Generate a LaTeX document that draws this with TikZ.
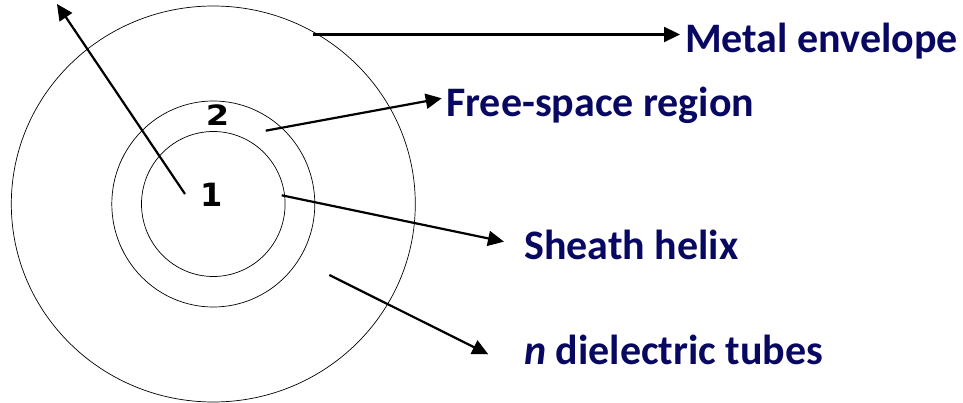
\documentclass[tikz,border=0pt]{standalone}
\usepackage{fontspec}
\setmainfont{Carlito}
\newfontfamily\numfont{DejaVu Sans}
\usetikzlibrary{arrows.meta}
\definecolor{navy}{RGB}{8,8,98}
\tikzset{
  ring/.style={draw=black, line width=0.7pt},
  pointer/.style={draw=black, line width=2.2pt, -{Triangle[length=16pt,width=15pt]}},
  lbl/.style={anchor=base west, inner sep=0pt, text=navy, font=\fontsize{42}{50}\selectfont\bfseries},
  num/.style={inner sep=0pt, font=\numfont\bfseries}
}
\begin{document}
\begin{tikzpicture}[x=1pt,y=-1pt]
\useasboundingbox (0,0) rectangle (963,403);
\coordinate (c) at (213.3,204);
\draw[ring] (c) circle[x radius=202, y radius=198];
\draw[ring] (c) circle[x radius=101.5, y radius=103];
\draw[ring] (c) circle[x radius=71.8, y radius=72.5];
\node[num, font=\numfont\bfseries\fontsize{32}{32}\selectfont] (one) at (211.7,195) {1};
\node[num, font=\numfont\bfseries\fontsize{28}{28}\selectfont, xscale=1.2] (two) at (217.5,115.5) {2};
% labels
\node[lbl] (metal) at (685,52.7) {Metal envelope};
\node[lbl] (free) at (446,116.7) {Free-space region};
\node[lbl] (sheath) at (524,260) {Sheath helix};
\node[lbl] (diel) at (524,364) {\textit{n} dielectric tubes};
% arrow ends
\coordinate (s0) at (185,194);  \coordinate (t0) at (57,4);
\coordinate (s1) at (313,34.5); \coordinate (t1) at (680,34.5);
\coordinate (s2) at (265.7,130.7); \coordinate (t2) at (441.7,98.3);
\coordinate (s3) at (281.7,195.3); \coordinate (t3) at (504,241.7);
\coordinate (s4) at (329.3,275); \coordinate (t4) at (488.3,354.3);
\draw[pointer] (s0) -- (t0);
\draw[pointer] (s1) -- (t1);
\draw[pointer] (s2) -- (t2);
\draw[pointer] (s3) -- (t3);
\draw[pointer] (s4) -- (t4);
\end{tikzpicture}
\end{document}
